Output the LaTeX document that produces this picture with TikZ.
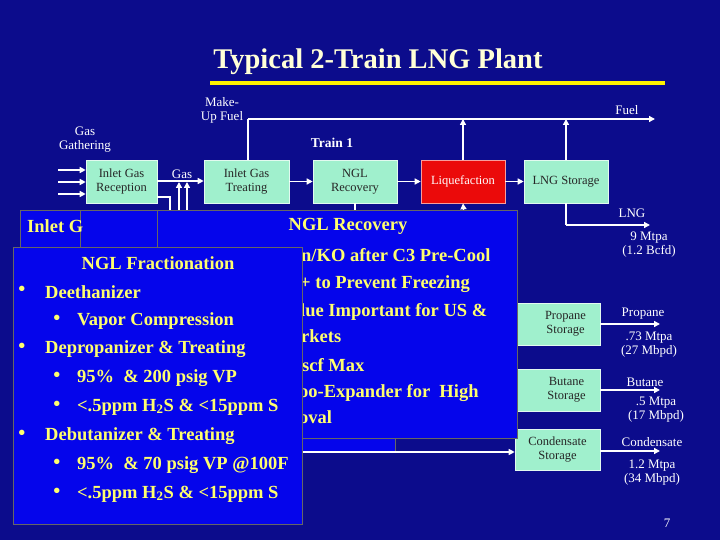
\documentclass[tikz,border=0pt]{standalone}
\usepackage{fontspec}
\setmainfont{Liberation Serif}
\usetikzlibrary{arrows.meta}
\definecolor{bg}{RGB}{12,12,140}
\definecolor{panel}{RGB}{5,5,235}
\definecolor{mint}{RGB}{160,240,205}
\definecolor{ytext}{RGB}{255,255,110}
\definecolor{ttl}{RGB}{255,255,215}
\definecolor{liq}{RGB}{235,10,10}
\tikzset{
 box/.style={draw=white!70!mint,fill=mint,line width=0.6pt,minimum height=43pt,inner sep=0pt,align=center,font=\fontsize{12.5}{14}\selectfont,text=black!85},
 lbl/.style={text=white,font=\fontsize{13}{14}\selectfont,inner sep=0pt,align=center},
 flow/.style={white,line width=1.4pt,-{Triangle[length=6pt,width=6pt]}},
 pipe/.style={white,line width=1.4pt},
 pnl/.style={fill=panel,draw=black!60,line width=0.5pt},
 yt/.style={text=ytext,font=\bfseries\fontsize{18.5}{20}\selectfont,inner sep=0pt,anchor=west},
 bul/.style={text=ytext,font=\bfseries\fontsize{20}{20}\selectfont,inner sep=0pt}
}
\begin{document}
\begin{tikzpicture}[x=1pt,y=-1pt]
\fill[bg] (0,0) rectangle (720,540);
\useasboundingbox (0,0) rectangle (720,540);
\node[text=ttl,font=\bfseries\fontsize{28.5}{30}\selectfont] (title) at (378,62) {Typical 2-Train LNG Plant};
\fill[yellow] (210,81) rectangle (665,85);
% top boxes
\node[box,minimum width=71pt] (igr) at (121.5,181.5) {Inlet Gas\\Reception};
\node[box,minimum width=85pt] (igt) at (246.5,181.5) {Inlet Gas\\Treating};
\node[box,minimum width=84pt] (ngl) at (355,181.5) {NGL\\Recovery};
\node[box,minimum width=84pt,fill=liq,text=white,draw=white!60!liq] (liq) at (463,181.5) {Liquefaction};
\node[box,minimum width=84pt] (lngs) at (566,181.5) {LNG Storage};
\node[lbl] (mk) at (222,110) {Make-\\Up Fuel};
\node[lbl] (fuel) at (627,110) {Fuel};
\node[lbl] (gg) at (85,140) {Gas\\Gathering};
\node[lbl,font=\bfseries\fontsize{13.5}{14}\selectfont] (tr) at (332,143) {Train 1};
\node[lbl] (gas) at (182,174) {Gas};
\coordinate (fs) at (248,119);
\coordinate (fe) at (655,119);
\draw[flow] (fs) -- (fe);
\draw[pipe] (igt.north -| fs) -- (fs);
\draw[flow] (liq.north) -- (liq.north |- fs);
\draw[flow] (lngs.north) -- (lngs.north |- fs);
\foreach \yy in {170,182,194}{\coordinate (in\yy) at (58,\yy); \draw[flow] (in\yy) -- (in\yy -| igr.west);}
\draw[flow] (igr.east |- 0,181) -- (igt.west |- 0,181);
\draw[flow] (ngl.east) -- (liq.west);
\draw[flow] (igt.east) -- (ngl.west);
\draw[flow] (liq.east) -- (lngs.west);
\draw[pipe] (igr.east |- 0,197) -| (170,215);
\draw[flow] (179,215) -- (179,182);
\draw[flow] (187,215) -- (187,182);
\draw[pipe] (ngl.south) -- (ngl.south |- 0,215);
\draw[flow] (464,215) -- (liq.south);
\coordinate (lngc) at (566,225);
\coordinate (lnge) at (650,225);
\draw[pipe] (lngs.south) -- (lngc);
\draw[flow] (lngc) -- (lnge);
\node[lbl] (lng) at (632,213) {LNG};
\node[lbl] (lng2) at (649,245) {9 Mtpa\\(1.2 Bcfd)};
% right storages
\node[box,minimum width=85pt,minimum height=42pt] (ps) at (557.5,324) {\hspace*{16pt}Propane\\\hspace*{16pt}Storage};
\node[box,minimum width=85pt,minimum height=42pt] (bs) at (557.5,390) {\hspace*{18pt}Butane\\\hspace*{18pt}Storage};
\node[box,minimum width=85pt,minimum height=41pt] (cs) at (557.5,449.5) {Condensate\\Storage};
\draw[flow] (ps.east) -- (660,324);
\draw[flow] (bs.east) -- (660,390);
\draw[flow] (cs.east |- 0,451) -- (660,451);
\node[lbl] (pl) at (643,314) {Propane};
\node[lbl] (pl2) at (649,345) {.73 Mtpa\\(27 Mbpd)};
\node[lbl] (bl) at (645,382) {Butane};
\node[lbl] (bl2) at (656,410) {.5 Mtpa\\(17 Mbpd)};
\node[lbl] (cl) at (652,442) {Condensate};
\node[lbl] (cl2) at (652,473) {1.2 Mtpa\\(34 Mbpd)};
\node[lbl] (pg) at (667,523) {7};
% panels
\draw[pnl] (20,210) rectangle (157,300);
\draw[pnl] (80,210) rectangle (157,300);
\node[yt] (ig) at (27,226) {Inlet G};
\draw[pnl] (300,438) rectangle (395,452);
\coordinate (cst) at (300,452);
\draw[flow] (cst) -- (cs.west |- cst);
\draw[pnl] (157,210) rectangle (517,438);
\node[yt,anchor=center] (nglr) at (348,226) {NGL Recovery};
\node[yt] (r1) at (301,255) {n/KO after C3 Pre-Cool};
\node[yt] (r2) at (300,284) {+ to Prevent Freezing};
\node[yt] (r3) at (300,312) {lue Important for US \&};
\node[yt] (r4) at (301,336) {rkets};
\node[yt] (r5) at (302,365) {scf Max};
\node[yt] (r6) at (299,393) {oo-Expander for\ \ High};
\node[yt] (r7) at (299,417) {oval};
\draw[pnl] (13,247) rectangle (302,524);
\node[yt,anchor=center] (fr) at (158,263) {NGL Fractionation};
\node[bul] (b1) at (22,291) {•}; \node[yt] (t1) at (45,292) {Deethanizer};
\node[bul] (b2) at (57,320) {•}; \node[yt] (t2) at (77,321) {Vapor Compression};
\node[bul] (b3) at (22,348) {•}; \node[yt] (t3) at (45,349) {Depropanizer \& Treating};
\node[bul] (b4) at (57,377) {•}; \node[yt] (t4) at (77,378) {95\%\ \ \& 200 psig VP};
\node[bul] (b5) at (57,406) {•}; \node[yt] (t5) at (77,407) {<.5ppm H\textsubscript{2}S \& <15ppm S};
\node[bul] (b6) at (22,435) {•}; \node[yt] (t6) at (45,436) {Debutanizer \& Treating};
\node[bul] (b7) at (57,464) {•}; \node[yt] (t7) at (77,465) {95\%\ \ \& 70 psig VP @100F};
\node[bul] (b8) at (57,493) {•}; \node[yt] (t8) at (77,494) {<.5ppm H\textsubscript{2}S \& <15ppm S};
\end{tikzpicture}
\end{document}
